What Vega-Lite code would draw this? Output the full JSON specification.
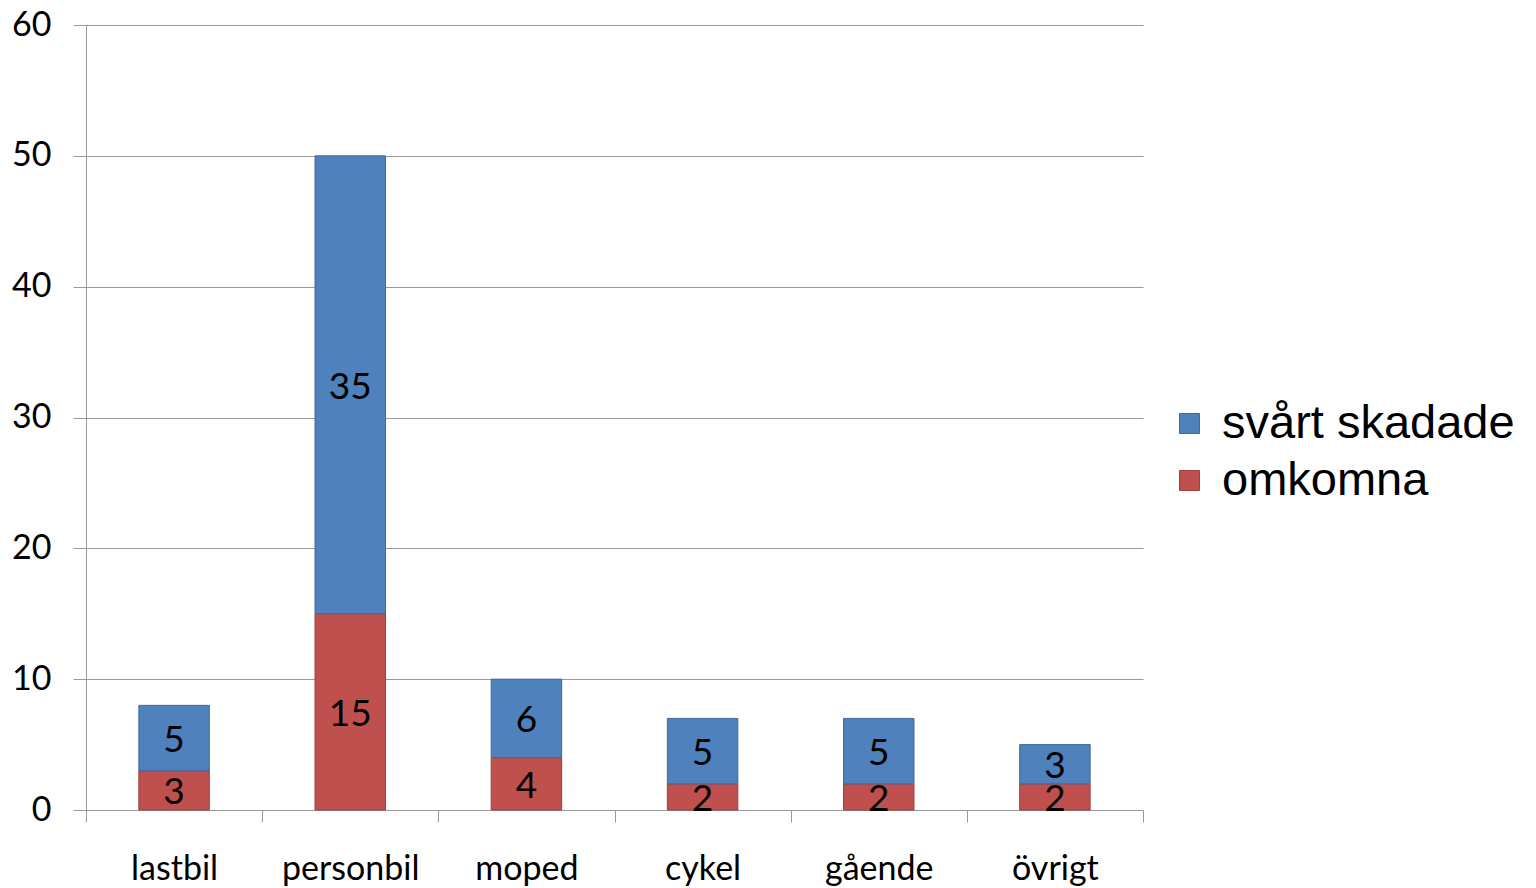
{
  "$schema": "https://vega.github.io/schema/vega-lite/v6.json",
  "autosize": {"type": "none"},
  "width": 1057,
  "height": 785,
  "padding": {"left": 86, "top": 25, "right": 393, "bottom": 78},
  "background": "white",
  "config": {
    "view": {"stroke": null},
    "font": "Lato"
  },
  "data": {
    "values": [
      {"kategori": "lastbil", "typ": "omkomna", "antal": 3},
      {"kategori": "lastbil", "typ": "svårt skadade", "antal": 5},
      {"kategori": "personbil", "typ": "omkomna", "antal": 15},
      {"kategori": "personbil", "typ": "svårt skadade", "antal": 35},
      {"kategori": "moped", "typ": "omkomna", "antal": 4},
      {"kategori": "moped", "typ": "svårt skadade", "antal": 6},
      {"kategori": "cykel", "typ": "omkomna", "antal": 2},
      {"kategori": "cykel", "typ": "svårt skadade", "antal": 5},
      {"kategori": "gående", "typ": "omkomna", "antal": 2},
      {"kategori": "gående", "typ": "svårt skadade", "antal": 5},
      {"kategori": "övrigt", "typ": "omkomna", "antal": 2},
      {"kategori": "övrigt", "typ": "svårt skadade", "antal": 3}
    ]
  },
  "transform": [
    {"stack": "antal", "groupby": ["kategori"], "sort": [{"field": "typ", "order": "ascending"}], "as": ["y0", "y1"]},
    {"calculate": "(datum.y0 + datum.y1) / 2", "as": "ymid"}
  ],
  "encoding": {
    "x": {
      "field": "kategori",
      "type": "nominal",
      "sort": ["lastbil", "personbil", "moped", "cykel", "gående", "övrigt"],
      "scale": {"paddingInner": 0, "paddingOuter": 0},
      "axis": {
        "title": null,
        "labelAngle": 0,
        "tickBand": "extent",
        "tickSize": 12,
        "tickColor": "#999999",
        "domainColor": "#999999",
        "labelFont": "Lato",
        "labelFontSize": 34,
        "labelColor": "#000000",
        "labelPadding": 30,
        "labelBaseline": "top"
      }
    }
  },
  "layer": [
    {
      "mark": {"type": "bar", "width": {"band": 0.4}, "strokeWidth": 1},
      "encoding": {
        "y": {
          "field": "y0",
          "type": "quantitative",
          "scale": {"domain": [0, 60]},
          "axis": {
            "title": null,
            "values": [0, 10, 20, 30, 40, 50, 60],
            "grid": true,
            "gridColor": "#999999",
            "gridWidth": 1.2,
            "tickSize": 13,
            "tickColor": "#999999",
            "domainColor": "#999999",
            "labelFont": "Lato",
            "labelFontSize": 34,
            "labelColor": "#000000",
            "labelPadding": 22
          }
        },
        "y2": {"field": "y1"},
        "color": {
          "field": "typ",
          "type": "nominal",
          "scale": {"domain": ["svårt skadade", "omkomna"], "range": ["#4F81BD", "#C0504D"]},
          "legend": {
            "title": null,
            "orient": "none",
            "legendX": 1080,
            "legendY": 375,
            "padding": 0,
            "symbolType": "square",
            "symbolSize": 400,
            "symbolStrokeWidth": 1,
            "labelFont": "Liberation Sans",
            "labelFontSize": 47,
            "labelColor": "#000000",
            "labelOffset": 9,
            "labelLimit": 0,
            "rowPadding": 9
          }
        },
        "stroke": {
          "field": "typ",
          "type": "nominal",
          "scale": {"domain": ["svårt skadade", "omkomna"], "range": ["#41699A", "#9B403D"]},
          "legend": null
        }
      }
    },
    {
      "mark": {"type": "text", "fontSize": 37, "font": "Lato", "color": "#000000", "baseline": "middle", "align": "center", "dy": 3},
      "encoding": {
        "y": {"field": "ymid", "type": "quantitative"},
        "text": {"field": "antal", "type": "quantitative"}
      }
    }
  ]
}
